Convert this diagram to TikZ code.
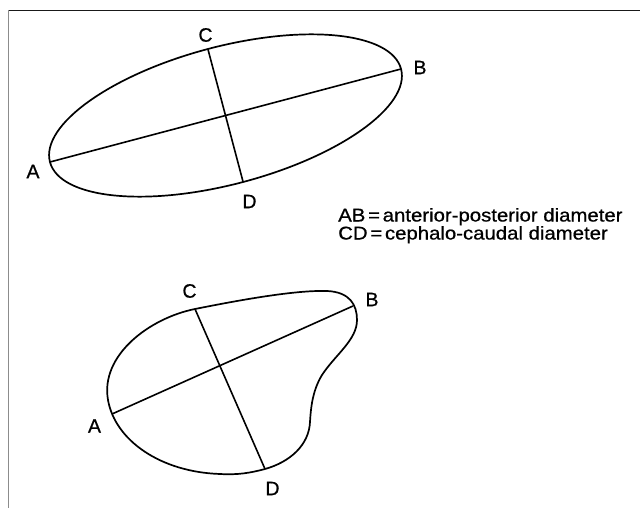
\documentclass[tikz,border=0pt]{standalone}
\usepackage{fontspec}
\setmainfont{Liberation Sans}
\newfontfamily\heavy{Liberation Sans}[RawFeature={embolden=0.7}]
\begin{document}
\begin{tikzpicture}[x=1pt,y=-1pt,
  outline/.style={line width=1.7pt,line join=round},
  diam/.style={line width=1.6pt},
  lbl/.style={inner sep=0pt,font=\heavy\fontsize{19.5}{19.5}\selectfont},
  legend/.style={inner sep=0pt,anchor=base west,xscale=1.1,transform shape,
    font=\heavy\fontsize{18.5}{18.5}\selectfont}]
\useasboundingbox (0,0) rectangle (640,508);
% frame
\draw[line width=1.1pt,black!90] (8.5,10.5) -- (640,10.5);
\draw[line width=1.4pt,black!45] (8.5,10.5) -- (8.5,508);
% upper ellipse
\begin{scope}[shift={(225.5,115.5)},rotate=14.84]
  \draw[outline] (0,0) ellipse [x radius=181.6pt, y radius=68.8pt];
  \coordinate (A1) at (-181.6,0);
  \coordinate (B1) at (181.6,0);
  \coordinate (C1) at (0,-68.8);
  \coordinate (D1) at (0,68.8);
\end{scope}
\draw[diam] (A1) -- (B1);
\draw[diam] (C1) -- (D1);
\node[lbl] (la1) at (33,171.5) {A};
\node[lbl] (lb1) at (420,67.5) {B};
\node[lbl] (lc1) at (205.5,35) {C};
\node[lbl] (ld1) at (249.5,201.5) {D};
% legend
\node[legend] (t1) at (338,221.5) {AB\hspace{2.5pt}=\hspace{2.5pt}anterior-posterior diameter};
\node[legend] (t2) at (338,239.5) {CD\hspace{2.5pt}=\hspace{2.5pt}cephalo-caudal diameter};
% lower shape
\coordinate (C2) at (195,309);
\coordinate (B2) at (353,306);
\coordinate (D2) at (265,469);
\coordinate (A2) at (112,414);
\draw[outline] (195,309)
  .. controls (240,300) and (295,290) .. (327,291)
  .. controls (350,292) and (357,305) .. (357,320)
  .. controls (357,340) and (335,355) .. (322,375)
  .. controls (313,390) and (311,405) .. (310,422)
  .. controls (309,445) and (290,462) .. (265,469)
  .. controls (250,473) and (238,475) .. (220,474)
  .. controls (160,472) and (115,440) .. (108,400)
  .. controls (100,355) and (150,318) .. (195,309) -- cycle;
\draw[diam] (A2) -- (B2);
\draw[diam] (C2) -- (D2);
\node[lbl] (la2) at (94.5,426) {A};
\node[lbl] (lb2) at (372,299.5) {B};
\node[lbl] (lc2) at (189.5,291) {C};
\node[lbl] (ld2) at (272.5,488.5) {D};
\end{tikzpicture}
\end{document}
